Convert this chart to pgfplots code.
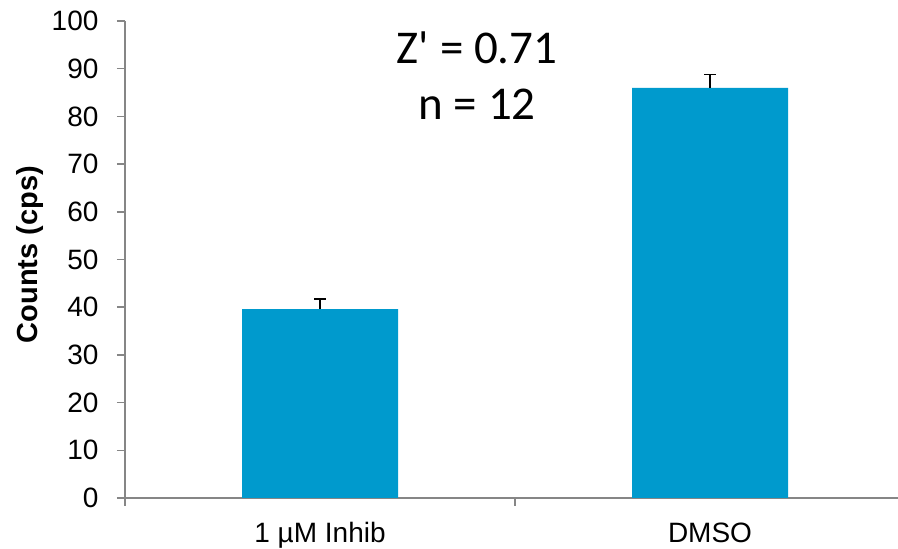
\documentclass[border=0pt]{standalone}
\usepackage{pgfplots}
\pgfplotsset{compat=1.18}
\usepackage{fontspec}
\setmainfont{Liberation Sans}
\newfontfamily\calibri{Carlito}
\definecolor{barblue}{RGB}{0,154,205}
\definecolor{axisgray}{RGB}{134,134,134}

\begin{document}
\begin{tikzpicture}[x=1pt,y=1pt]
\useasboundingbox (0,0) rectangle (898,549);
\begin{axis}[
  at={(125pt,51pt)}, anchor=south west,
  scale only axis,
  width=773pt, height=477pt,
  xmin=-0.5, xmax=1.482,
  ymin=0, ymax=100,
  axis x line=bottom, axis y line=left,
  axis line style={axisgray, line width=1.5pt, -},
  every tick/.style={axisgray, line width=1.5pt},
  tick align=outside,
  major tick length=8pt, minor tick length=8pt,
  ytick={0,10,...,100},
  xtick={0,1},
  xticklabels={1 µM Inhib, DMSO},
  major x tick style={draw=none},
  minor xtick={-0.5,0.5,1.5},
  tick label style={font=\fontsize{28}{33}\selectfont, black},
  yticklabel style={xshift=-15pt},
  xticklabel style={yshift=-13pt},
  /pgf/number format/assume math mode=true,
  ylabel={Counts (cps)},
  ylabel style={at={(axis description cs:-0.123,0.51)}, anchor=center,
    font=\fontsize{29}{34}\selectfont\bfseries},
  clip=false,
]
\addplot[ybar, bar width=0.4, fill=barblue, draw=none,
  error bars/.cd, y dir=plus, y explicit,
  error bar style={black, line width=1.3pt},
  error mark options={rotate=90, mark size=6pt, black, line width=1.3pt}]
  coordinates {(0,39.6) +- (0,2.1) (1,86.0) +- (0,2.8)};
\node[font=\calibri\fontsize{47}{56}\selectfont] at (axis cs:0.403,94.4) {Z' = 0.71};
\node[font=\calibri\fontsize{47}{56}\selectfont] at (axis cs:0.403,82.6) {n = 12};
\end{axis}
\end{tikzpicture}
\end{document}
